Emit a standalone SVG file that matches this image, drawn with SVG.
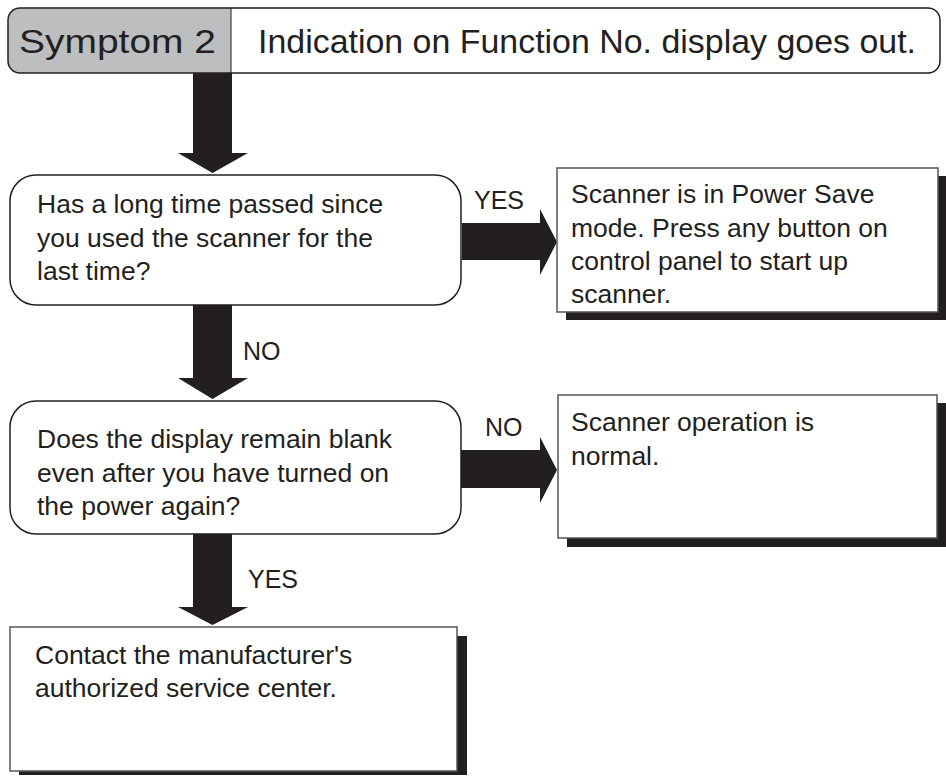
<svg xmlns="http://www.w3.org/2000/svg" width="946" height="776" viewBox="0 0 946 776">
<style>
text{font-family:"Liberation Sans",Arial,sans-serif;fill:#231f20}
.t{font-size:26.5px}
.l{font-size:25px}
.h{font-size:34px}
.dec{fill:#fff;stroke:#231f20;stroke-width:1.5}
.box{fill:#fff;stroke:#555;stroke-width:1.5}
.sh{fill:#231f20}
.arr{fill:#231f20}
</style>
<rect width="946" height="776" fill="#fff"/>
<g id="header">
<path d="M20,8 H231 V73 H20 Q8,73 8,61 V20 Q8,8 20,8 Z" fill="#bcbec0"/>
<rect x="8" y="8" width="932" height="65" rx="12" ry="12" fill="none" stroke="#231f20" stroke-width="1.5"/>
<line x1="231" y1="8" x2="231" y2="73" stroke="#231f20" stroke-width="1"/>
<text class="h" x="19" y="53" textLength="197" lengthAdjust="spacingAndGlyphs">Symptom 2</text>
<text class="h" x="258" y="53" textLength="658" lengthAdjust="spacingAndGlyphs">Indication on Function No. display goes out.</text>
</g>
<g id="connectors">
<polygon class="arr" points="193,73 232,73 232,153 248,153 212.5,173 178,153 193,153"/>
<polygon class="arr" points="462,223 540,223 540,209 557,242 540,275 540,260 462,260"/>
<text class="l" x="474" y="209">YES</text>
<polygon class="arr" points="193,305 232,305 232,378 248,378 212.5,399 178,378 193,378"/>
<text class="l" x="243" y="360">NO</text>
<polygon class="arr" points="461,450 540,450 540,437 557,470 540,503 540,488 461,488"/>
<text class="l" x="485" y="436">NO</text>
<polygon class="arr" points="193,534 232,534 232,607 248,607 212.5,625 178,607 193,607"/>
<text class="l" x="248" y="588">YES</text>
</g>
<g id="decision1">
<rect class="dec" x="10" y="175" width="451" height="130" rx="26" ry="26"/>
<text class="t" x="37" y="213">Has a long time passed since</text>
<text class="t" x="37" y="247">you used the scanner for the</text>
<text class="t" x="37" y="280">last time?</text>
</g>
<g id="result1">
<rect class="sh" x="566" y="176" width="380" height="144"/>
<rect class="box" x="557" y="168" width="381" height="144"/>
<text class="t" x="571" y="203">Scanner is in Power Save</text>
<text class="t" x="571" y="236.5">mode. Press any button on</text>
<text class="t" x="571" y="270">control panel to start up</text>
<text class="t" x="571" y="303">scanner.</text>
</g>
<g id="decision2">
<rect class="dec" x="10" y="401" width="451" height="133" rx="26" ry="26"/>
<text class="t" x="37" y="448">Does the display remain blank</text>
<text class="t" x="37" y="481.5">even after you have turned on</text>
<text class="t" x="37" y="515">the power again?</text>
</g>
<g id="result2">
<rect class="sh" x="567" y="403" width="379" height="144"/>
<rect class="box" x="558" y="395" width="379" height="143"/>
<text class="t" x="571" y="431">Scanner operation is</text>
<text class="t" x="571" y="464.5">normal.</text>
</g>
<g id="result3">
<rect class="sh" x="19" y="636" width="448" height="139"/>
<rect class="box" x="10" y="627" width="447" height="144"/>
<text class="t" x="35" y="664">Contact the manufacturer's</text>
<text class="t" x="35" y="697">authorized service center.</text>
</g>
</svg>
